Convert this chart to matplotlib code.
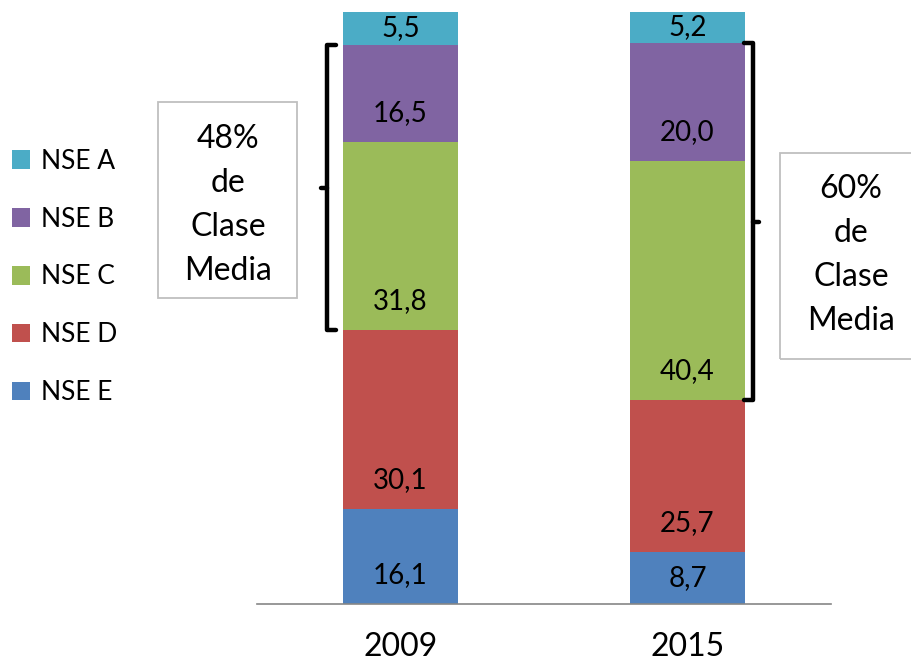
import numpy as np
import matplotlib
matplotlib.use('Agg')
import matplotlib.pyplot as plt
from matplotlib.patches import Patch, Rectangle

plt.rcParams['font.family'] = ['Lato', 'DejaVu Sans']

years = ['2009', '2015']
groups = ['NSE E', 'NSE D', 'NSE C', 'NSE B', 'NSE A']
values = {
  'NSE E': [16.1, 8.7],
  'NSE D': [30.1, 25.7],
  'NSE C': [31.8, 40.4],
  'NSE B': [16.5, 20.0],
  'NSE A': [5.5, 5.2],
}
colors = {
  'NSE E': '#4F81BD',
  'NSE D': '#C0504D',
  'NSE C': '#9BBB59',
  'NSE B': '#8064A2',
  'NSE A': '#4BACC6',
}
notes = ['48%\nde\nClase\nMedia', '60%\nde\nClase\nMedia']

W, H = 911, 668
fig = plt.figure(figsize=(W / 100, H / 100), dpi=100)
ax = fig.add_axes([257 / W, 64 / H, 574 / W, 592 / H])

x = np.arange(len(years))
bw = 0.4
bottom = np.zeros(len(years))
bottoms = {}
for g in groups:
  v = np.array(values[g])
  ax.bar(x, v, bw, bottom=bottom, color=colors[g], edgecolor='none')
  bottoms[g] = bottom.copy()
  for i in range(len(years)):
    # label sits ~29px above the segment bottom, centred if the segment is small
    ly = bottom[i] + min(4.9, v[i] / 2)
    ax.text(x[i], ly, ('%.1f' % v[i]).replace('.', ','), ha='center', va='center',
            fontsize=20, color='black')
  bottom = bottom + v

ax.set_xlim(-0.5, 1.5)
ax.set_ylim(0, 100)
for s in ['top', 'right', 'left']:
  ax.spines[s].set_visible(False)
ax.spines['bottom'].set_color('#868686')
ax.spines['bottom'].set_linewidth(1.2)
ax.set_yticks([])
ax.set_xticks(x)
ax.set_xticklabels(years, fontsize=23)
ax.tick_params(axis='x', length=0, pad=20)

# brackets around the middle class (C + B)
def bracket(ax, xb, y0, y1, side):
  hook = 0.03 * side
  nub = 0.022 * side
  ym = (y0 + y1) / 2
  ax.plot([xb + hook, xb, xb, xb + hook], [y1, y1, y0, y0], color='black', lw=3.2,
          clip_on=False, solid_joinstyle='round', solid_capstyle='round')
  ax.plot([xb, xb - nub], [ym, ym], color='black', lw=3.2, clip_on=False,
          solid_capstyle='round')

lo = [bottoms['NSE C'][i] for i in range(2)]
hi = [bottoms['NSE A'][i] for i in range(2)]
bracket(ax, x[0] - bw / 2 - 0.056, lo[0], hi[0], 1)
bracket(ax, x[1] + bw / 2 + 0.028, lo[1], hi[1], -1)

# text boxes
def note_box(fig, txt, x0, y0, x1, y1, cx, base0, step):
  fig.patches.append(Rectangle((x0 / W, 1 - y1 / H), (x1 - x0) / W, (y1 - y0) / H,
                               transform=fig.transFigure, fill=False,
                               edgecolor='#BFBFBF', lw=1.3))
  for k, line in enumerate(txt.split('\n')):
    fig.text(cx / W, 1 - (base0 + k * step) / H, line, ha='center', va='baseline',
             fontsize=23, color='black')

note_box(fig, notes[0], 158, 102, 297, 298, 228, 148, 44)
note_box(fig, notes[1], 780, 153, 925, 359, 851, 198, 44)

handles = [Patch(facecolor=colors[g], edgecolor='none') for g in groups[::-1]]
fig.legend(handles, groups[::-1], loc='center left', bbox_to_anchor=(12 / W, 1 - 277 / H),
           frameon=False, fontsize=19, handlelength=0.7, handleheight=0.7,
           handletextpad=0.4, labelspacing=1.25, borderpad=0, borderaxespad=0)

fig.savefig('out.png', dpi=100)
